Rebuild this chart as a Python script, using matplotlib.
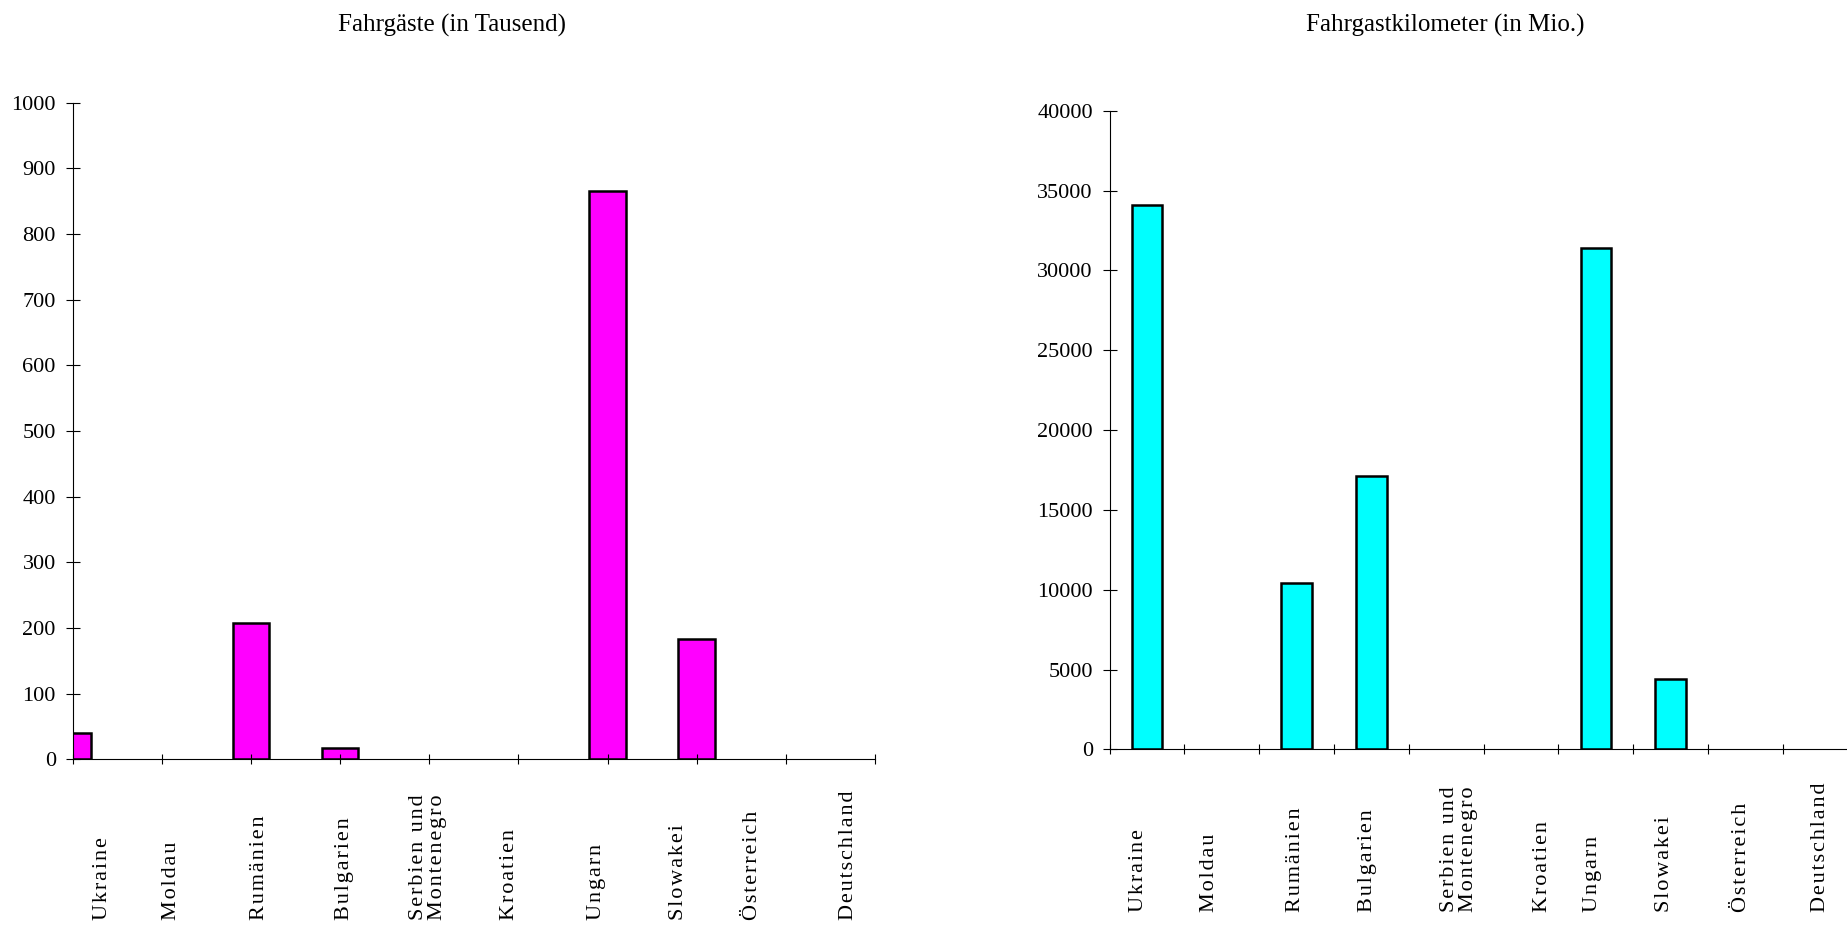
import matplotlib
matplotlib.use('Agg')
import matplotlib.pyplot as plt
import matplotlib.transforms as mtransforms
import numpy as np

plt.rcParams['font.family'] = ['Liberation Serif', 'DejaVu Serif']

# Daten
laender = ['Ukraine', 'Moldau', 'Rumänien', 'Bulgarien', 'Serbien und\nMontenegro',
           'Kroatien', 'Ungarn', 'Slowakei', 'Österreich', 'Deutschland']
fahrgaeste = [40, 0, 208, 18, 0, 0, 866, 183, 0, 0]            # in Tausend
fahrgastkm = [34100, 0, 10450, 17100, 0, 0, 31400, 4430, 0, 0]  # in Mio.

# Lage der Beschriftungen (in Achseneinheiten)
lab_x1 = [0.33, 1.11, 2.10, 3.05, 3.98, 4.90, 5.88, 6.80, 7.62, 8.70]
lab_x2 = [0.39, 1.33, 2.49, 3.44, 4.67, 5.78, 6.46, 7.42, 8.45, 9.50]

HS = '\u200a'


def gesperrt(s):
    # etwas Sperrung wie im Original
    return '\n'.join(HS.join(zeile) for zeile in s.split('\n'))


fig = plt.figure(figsize=(18.47, 9.25), dpi=100)

# linkes Diagramm: Balken auf den Teilstrichen
ax1 = fig.add_axes([0.03936, 0.1791, 0.4344, 0.7099])
x1 = np.arange(len(laender))
v1 = np.array(fahrgaeste, dtype=float)
m1 = v1 > 0
ax1.bar(x1[m1], v1[m1], width=0.41, color='#ff00ff', edgecolor='black', linewidth=1.8)
ax1.set_xlim(0, len(laender) - 1)
ax1.set_ylim(0, 1000)
ax1.set_yticks(np.arange(0, 1001, 100))
ax1.set_xticks(x1)
ax1.set_xticklabels([])
tr1 = mtransforms.blended_transform_factory(ax1.transData, fig.transFigure)
for xi, name in zip(lab_x1, laender):
    ax1.text(xi, 0.005, gesperrt(name), rotation=90, ha='center', va='bottom', fontsize=16,
             linespacing=1.0, transform=tr1, clip_on=False)

# rechtes Diagramm: Balken zwischen den Teilstrichen
ax2 = fig.add_axes([0.6008, 0.1899, 0.405, 0.6904])
x2 = np.arange(len(laender)) + 0.5
v2 = np.array(fahrgastkm, dtype=float)
m2 = v2 > 0
ax2.bar(x2[m2], v2[m2], width=0.41, color='#00ffff', edgecolor='black', linewidth=1.8)
ax2.set_xlim(0, len(laender))
ax2.set_ylim(0, 40000)
ax2.set_yticks(np.arange(0, 40001, 5000))
ax2.set_xticks(np.arange(len(laender) + 1))
ax2.set_xticklabels([])
tr2 = mtransforms.blended_transform_factory(ax2.transData, fig.transFigure)
for xi, name in zip(lab_x2, laender):
    ax2.text(xi, 0.0144, gesperrt(name), rotation=90, ha='center', va='bottom', fontsize=16,
             linespacing=1.0, transform=tr2, clip_on=False)

for ax in (ax1, ax2):
    ax.spines['top'].set_visible(False)
    ax.spines['right'].set_visible(False)
    ax.spines['left'].set_linewidth(0.8)
    ax.spines['bottom'].set_linewidth(0.8)
    ax.tick_params(axis='y', direction='inout', length=10.3, width=0.8, labelsize=16, pad=7)
    ax.tick_params(axis='x', direction='inout', length=6.5, width=0.8)

fig.text(452 / 1847, 1 - 31.7 / 925, 'Fahrgäste (in Tausend)', ha='center', va='baseline', fontsize=18)
fig.text(1445 / 1847, 1 - 31.7 / 925, 'Fahrgastkilometer (in Mio.)', ha='center', va='baseline', fontsize=18)

fig.savefig('out.png', dpi=100)
